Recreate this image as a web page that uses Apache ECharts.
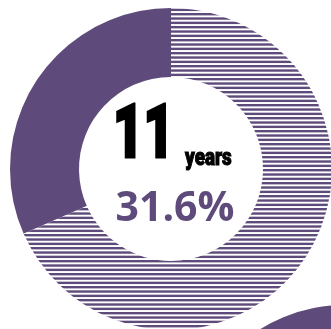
<!DOCTYPE html>
<html>
<head>
<meta charset="utf-8">
<script src="https://cdn.jsdelivr.net/npm/echarts@6/dist/echarts.min.js"></script>
<style>
  html, body { margin: 0; padding: 0; background: #ffffff; }
  #chart { width: 331px; height: 329px; }
</style>
</head>
<body>
<div id="chart"></div>
<script>
// Share of people with 11 years (solid) vs. the rest (hatched)
var shareNames = ['11 years', 'Other'];
var shareValues = [31.6, 68.4];
// Neighbouring donut, only its top-left edge falls inside the frame
var nextValues = [38, 62];
var yearsLabel = '11';
var unitLabel = 'years';

var PURPLE = '#5f4b7b';

// Horizontal stripe fill for the remainder slice
function stripePattern() {
  var c = document.createElement('canvas');
  c.width = 8; c.height = 13;
  var ctx = c.getContext('2d');
  ctx.fillStyle = '#ffffff';
  ctx.fillRect(0, 0, 8, 13);
  ctx.fillStyle = PURPLE;
  var period = 13 / 3;
  for (var i = 0; i < 3; i++) {
    ctx.fillRect(0, i * period, 8, 2.4);
  }
  return { image: c, repeat: 'repeat' };
}
var stripes = stripePattern();

function donut(values, center) {
  return {
    type: 'pie',
    silent: true,
    animation: false,
    center: center,
    radius: [92, 161],
    startAngle: 90,
    clockwise: false,
    label: { show: false },
    labelLine: { show: false },
    emphasis: { disabled: true },
    data: values.map(function (v, i) {
      return {
        name: shareNames[i],
        value: v,
        itemStyle: { color: i === 0 ? PURPLE : stripes, borderWidth: 0 }
      };
    })
  };
}

var chart = echarts.init(document.getElementById('chart'), null, { renderer: 'canvas' });
chart.setOption({
  backgroundColor: '#ffffff',
  series: [
    donut(shareValues, [171, 169]),
    donut(nextValues, [345, 466])
  ],
  graphic: [
    {
      type: 'text',
      x: 113, y: 138,
      scaleX: 0.7,
      style: {
        text: yearsLabel,
        fontFamily: 'Roboto',
        fontWeight: 900,
        fontSize: 75,
        fill: '#000000',
        stroke: '#000000',
        lineWidth: 3,
        lineJoin: 'round',
        align: 'left',
        verticalAlign: 'middle'
      }
    },
    {
      type: 'text',
      x: 185, y: 159,
      scaleX: 0.82,
      style: {
        text: unitLabel,
        fontFamily: 'Roboto',
        fontWeight: 900,
        fontSize: 23,
        fill: '#000000',
        stroke: '#000000',
        lineWidth: 1,
        lineJoin: 'round',
        align: 'left',
        verticalAlign: 'middle'
      }
    },
    {
      type: 'text',
      x: 175, y: 209,
      style: {
        text: shareValues[0].toFixed(1) + '%',
        fontFamily: 'Open Sans',
        fontWeight: 'bold',
        fontSize: 41,
        fill: PURPLE,
        align: 'center',
        verticalAlign: 'middle'
      }
    }
  ]
});
</script>
</body>
</html>
